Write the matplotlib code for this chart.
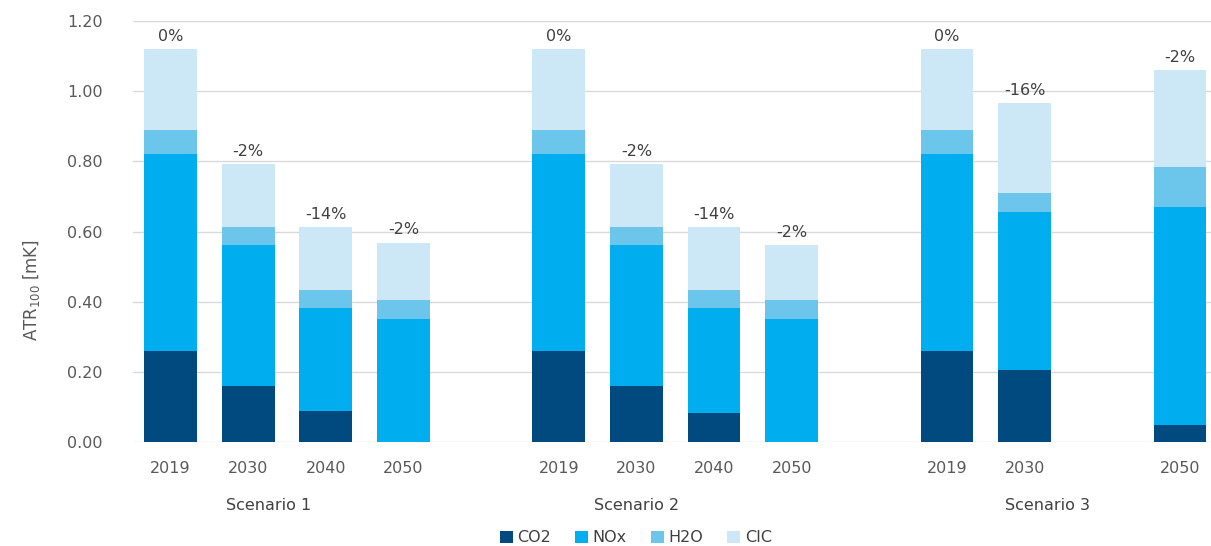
import matplotlib
matplotlib.use("Agg")
import matplotlib.pyplot as plt
import numpy as np

# slot positions: 3 scenarios, one empty slot between groups, scenario 3 has no 2040 bar
slots = [0, 1, 2, 3, 5, 6, 7, 8, 10, 11, 13]
years = ['2019', '2030', '2040', '2050', '2019', '2030', '2040', '2050', '2019', '2030', '2050']
scenarios = ['Scenario 1', 'Scenario 2', 'Scenario 3']
co2 = [0.26, 0.161, 0.087, 0.0, 0.26, 0.161, 0.082, 0.0, 0.26, 0.206, 0.048]
nox = [0.56, 0.401, 0.295, 0.352, 0.56, 0.401, 0.300, 0.352, 0.56, 0.449, 0.621]
h2o = [0.068, 0.052, 0.051, 0.052, 0.068, 0.052, 0.051, 0.052, 0.068, 0.054, 0.114]
cic = [0.232, 0.179, 0.180, 0.164, 0.232, 0.179, 0.180, 0.158, 0.232, 0.256, 0.276]
change = ['0%', '-2%', '-14%', '-2%', '0%', '-2%', '-14%', '-2%', '0%', '-16%', '-2%']

colors = ['#004a80', '#00aeef', '#6cc6ec', '#cce8f6']
names = ['CO2', 'NOx', 'H2O', 'CIC']
txt = '#595959'

fig = plt.figure(figsize=(12.11, 5.46), dpi=100)
ax = fig.add_axes([0.110, 0.1905, 0.890, 0.771])

bottom = np.zeros(len(slots))
for vals, c, n in zip([co2, nox, h2o, cic], colors, names):
    ax.bar(slots, vals, width=0.68, bottom=bottom, color=c, label=n, zorder=2)
    bottom += np.array(vals)

# percentage change above each bar
for x, tot, lab in zip(slots, bottom, change):
    ax.text(x, tot + 0.015, lab, ha='center', va='bottom', fontsize=11.5, color='#404040')

ax.set_ylim(0, 1.2)
ax.set_xlim(-0.48, 13.4)
ax.set_yticks(np.arange(0, 1.21, 0.2))
ax.set_yticklabels(['%.2f' % v for v in np.arange(0, 1.21, 0.2)], fontsize=11.5, color=txt)
ax.set_xticks(slots)
ax.set_xticklabels(years, fontsize=11.5, color=txt)
ax.tick_params(length=0, pad=14)
ax.tick_params(axis='y', pad=22)
ax.grid(axis='y', color='#d9d9d9', linewidth=1, zorder=0)
for s in ax.spines.values():
    s.set_visible(False)
ax.set_ylabel('ATR$_{100}$ [mK]', fontsize=12, color=txt, labelpad=18)
ax.yaxis.set_label_coords(-0.085, 0.36)

for sx, name in zip([1.26, 6.0, 11.3], scenarios):
    ax.text(sx, -0.18, name, ha='center', va='center', fontsize=11.5, color='#404040')

fig.legend(loc='lower center', bbox_to_anchor=(0.525, -0.025), ncol=4, frameon=False,
           fontsize=11.5, handlelength=0.8, handleheight=0.8, handletextpad=0.3,
           columnspacing=1.5, labelcolor='#404040')

fig.savefig('out.png', dpi=100)
